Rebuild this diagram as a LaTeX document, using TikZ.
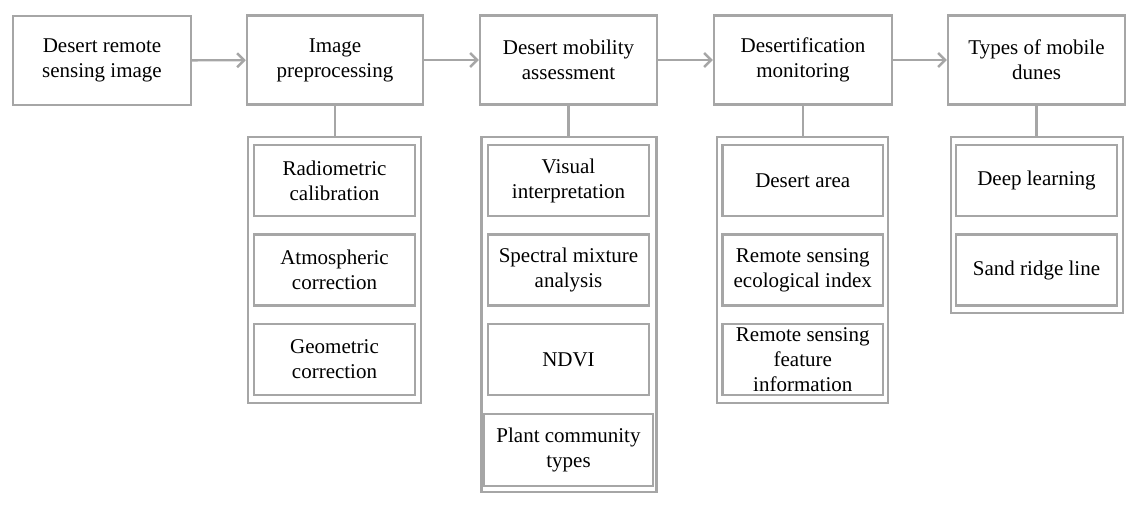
\documentclass[tikz,border=0pt]{standalone}
\usepackage{fontspec}
\setmainfont{Liberation Serif}
\usetikzlibrary{arrows.meta}
\definecolor{edge}{HTML}{A6A6A6}
\tikzset{
  box/.style={draw=edge, line width=2.4pt, inner sep=0pt, align=center,
    font=\fontsize{21}{25}\selectfont, text=black},
  topbox/.style={box, minimum height=89pt},
  cont/.style={draw=edge, line width=2.4pt, inner sep=0pt},
  sub/.style={box, minimum width=161pt, minimum height=71pt},
  flow/.style={draw=edge, line width=2.4pt, -{Straight Barb[length=7pt,width=14pt,line width=2.4pt]}},
  link/.style={draw=edge, line width=2.4pt},
}
\begin{document}
\begin{tikzpicture}[x=1pt, y=-1pt]
\useasboundingbox (0,0) rectangle (1146,507);
% top row
\node[topbox, minimum width=178pt] (t1) at (102,60.5) {Desert remote\\sensing image};
\node[topbox, minimum width=176pt] (t2) at (335,60) {Image\\preprocessing};
\node[topbox, minimum width=177pt] (t3) at (568.5,60) {Desert mobility\\assessment};
\node[topbox, minimum width=178pt] (t4) at (803,60) {Desertification\\monitoring};
\node[topbox, minimum width=177pt] (t5) at (1036.5,60) {Types of mobile\\dunes};
\draw[flow] (t1) -- (t2);
\draw[flow] (t2) -- (t3);
\draw[flow] (t3) -- (t4);
\draw[flow] (t4) -- (t5);
% containers
\node[cont, minimum width=173pt, minimum height=266pt] (c2) at (334.5,270) {};
\node[cont, minimum width=175pt, minimum height=355pt] (c3) at (569,314.5) {};
\node[cont, minimum width=171pt, minimum height=266pt] (c4) at (802.5,270) {};
\node[cont, minimum width=172pt, minimum height=176pt] (c5) at (1037,225) {};
\draw[link] (t2.south) -- (t2.south |- c2.north);
\draw[link] (t3.south) -- (t3.south |- c3.north);
\draw[link] (t4.south) -- (t4.south |- c4.north);
\draw[link] (t5.south) -- (t5.south |- c5.north);
% column 2
\node[sub] (a1) at (334.5,180.5) {Radiometric\\calibration};
\node[sub] (a2) at (334.5,270) {Atmospheric\\correction};
\node[sub] (a3) at (334.5,359.5) {Geometric\\correction};
% column 3
\node[sub] (b1) at (568.5,180.5) {Visual\\interpretation};
\node[sub] (b2) at (568.5,270) {Spectral mixture\\analysis};
\node[sub] (b3) at (568.5,359.5) {NDVI};
\node[sub, minimum width=169pt, minimum height=72pt] (b4) at (568.5,450) {Plant community\\types};
% column 4
\node[sub, minimum width=160.5pt] (d1) at (802.75,180.5) {Desert area};
\node[sub, minimum width=160.5pt] (d2) at (802.75,270) {Remote sensing\\ecological index};
\node[sub, minimum width=160.5pt] (d3) at (802.75,359.5) {Remote sensing\\feature\\information};
% column 5
\node[sub] (e1) at (1036.5,180.5) {Deep learning};
\node[sub] (e2) at (1036.5,270) {Sand ridge line};
\end{tikzpicture}
\end{document}
